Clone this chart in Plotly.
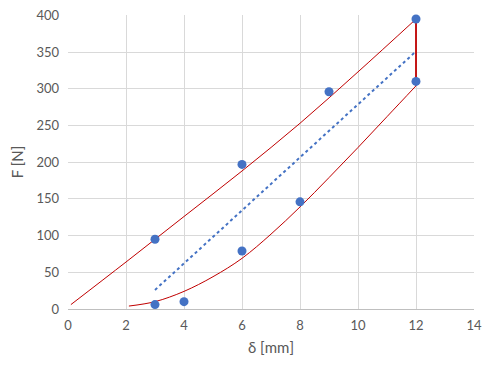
import plotly.graph_objects as go

# measured points
pts_x = [3, 3, 4, 6, 6, 8, 9, 12, 12]
pts_y = [95, 6, 10, 197, 79, 146, 296, 395, 310]

# upper (loading) curve
up_x = [0.1, 2, 4, 6, 8, 10, 12]
up_y = [6, 64, 126, 188, 253, 323, 395]

# lower (unloading) curve
low_x = [2.1, 3, 4, 5, 6, 7, 8, 9, 10, 11, 12]
low_y = [4, 10, 24, 44, 69, 102, 139, 179, 220, 262, 304]

# vertical connector at 12 mm
vert_x = [12, 12]
vert_y = [395, 304]

# linear trendline
trend_x = [3, 12]
trend_y = [26, 351]

x_ticks = [0, 2, 4, 6, 8, 10, 12, 14]
y_ticks = [0, 50, 100, 150, 200, 250, 300, 350, 400]

fig = go.Figure()
fig.add_trace(go.Scatter(x=trend_x, y=trend_y, mode="lines",
                         line=dict(color="#4472C4", width=2, dash="dot")))
fig.add_trace(go.Scatter(x=up_x, y=up_y, mode="lines", line_shape="spline",
                         line=dict(color="#C00000", width=1)))
fig.add_trace(go.Scatter(x=low_x, y=low_y, mode="lines", line_shape="spline",
                         line=dict(color="#C00000", width=1)))
fig.add_trace(go.Scatter(x=vert_x, y=vert_y, mode="lines",
                         line=dict(color="#C00000", width=1.8)))
fig.add_trace(go.Scatter(x=pts_x, y=pts_y, mode="markers",
                         marker=dict(color="#4472C4", size=9), cliponaxis=False))

font = dict(family="Lato, 'Open Sans', sans-serif", size=13, color="#595959")
# page body adds an 8px offset, so the figure is sized 483x357
fig.update_layout(
    width=483, height=357,
    margin=dict(l=60, r=17, t=7, b=56, autoexpand=False),
    paper_bgcolor="white", plot_bgcolor="white",
    showlegend=False, font=font,
    xaxis=dict(range=[0, 14], tickvals=x_ticks, showgrid=True, gridcolor="#D9D9D9",
               gridwidth=1, zeroline=False, showline=True, linecolor="#BFBFBF",
               ticks="", automargin=False, ticklabelstandoff=4,
               ticklabeloverflow="allow",
               title=dict(text="δ [mm]", font=dict(size=15), standoff=10)),
    yaxis=dict(range=[0, 400.5], tickvals=y_ticks, showgrid=True, gridcolor="#D9D9D9",
               gridwidth=1, zeroline=False, showline=False, automargin=False,
               ticks="", ticklabelstandoff=8, ticklabeloverflow="allow",
               title=dict(text="F [N]", font=dict(size=15), standoff=12)),
)
fig.write_html("out.html")
